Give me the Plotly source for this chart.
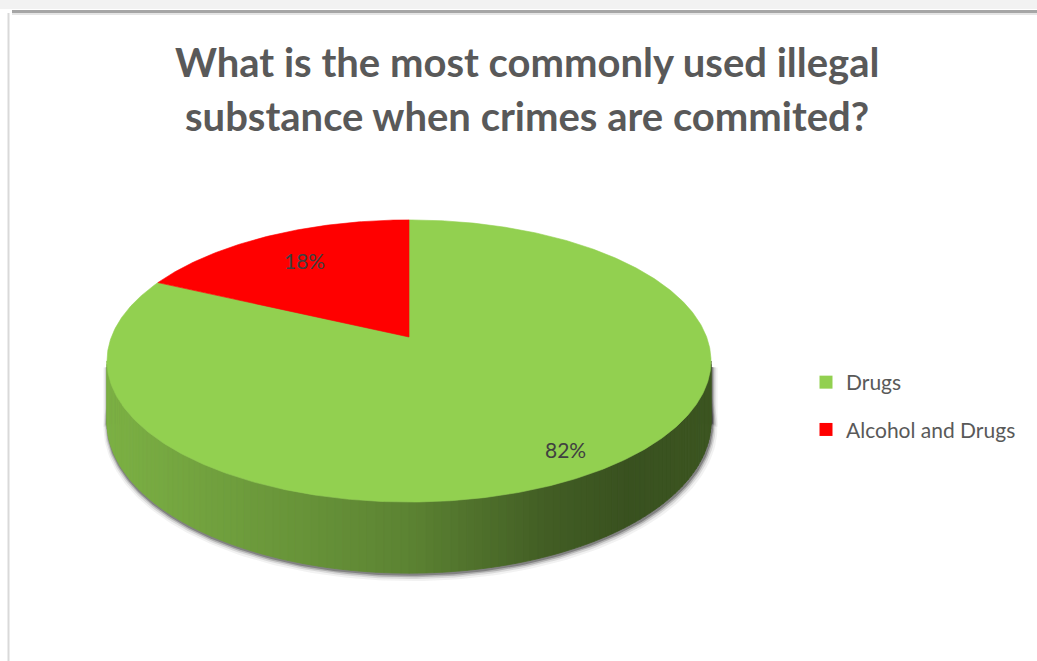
import numpy as np
import plotly.graph_objects as go

# ---- data ----
categories = ["Drugs", "Alcohol and Drugs"]
shares = [82, 18]
slice_colors = ["#92D050", "#FF0000"]
title_lines = ["What is the most commonly used illegal",
               "substance when crimes are commited?"]

# ---- 3-D pie geometry (pixel space, y downwards) ----
W, H = 1037, 661
CX, CY = 409.0, 337.0        # projected centre of the top face
RX, RY = 297.6, 137.0        # horizontal / vertical semi-axes before perspective
PERSP = 0.17                 # perspective strength (far side smaller)
DEPTH = 59.0                 # thickness of the disc
START_DEG = 90.0             # first slice starts at 12 o'clock, clockwise


def proj(r, theta_deg, depth=0.0):
    t = np.radians(theta_deg)
    x = r * np.cos(t)
    y = r * np.sin(t)
    w = 1.0 / (1.0 + PERSP * y)
    return CX + RX * x * w, CY - RY * y * w + DEPTH * depth * w


def shade(hex_color, f):
    h = hex_color.lstrip("#")
    rgb = [int(h[i:i + 2], 16) for i in (0, 2, 4)]
    return "rgb({},{},{})".format(*[max(0, min(255, int(round(c * f)))) for c in rgb])


fig = go.Figure()

# soft drop shadow hugging the disc outline
full = np.linspace(0, 360, 361)
for r, dx, dy, op in [(1.016, 1.5, 4.5, 0.06), (1.011, 1.2, 3.5, 0.12),
                      (1.007, 1.0, 2.6, 0.22), (1.004, 0.8, 1.8, 0.35)]:
    sx, sy = proj(r, full, depth=1.0)
    tx, ty = proj(r, full)
    # union of the top and bottom outlines, shifted slightly right/down
    ux = np.r_[tx, sx[::-1]]
    uy = np.r_[ty, sy[::-1]]
    fig.add_trace(go.Scatter(x=sx + dx, y=sy + dy, mode="lines", fill="toself",
                             fillcolor=f"rgba(40,40,40,{op})",
                             line=dict(width=0), hoverinfo="skip", showlegend=False))
    # side silhouettes as well
    sil_deg = np.degrees(np.arcsin(PERSP))
    for a in (180.0 + sil_deg, -sil_deg):
        px0, py0 = proj(r, a)
        px1, py1 = proj(r, a, 1.0)
        side = 1 if a < 90 else -1
        fig.add_trace(go.Scatter(x=[px0 - side * 20, px0 + dx, px1 + dx, px1 - side * 20],
                                 y=[py0 + 6, py0 + 6, py1 + dy, py1 + dy],
                                 mode="lines", fill="toself",
                                 fillcolor=f"rgba(40,40,40,{op})",
                                 line=dict(width=0), hoverinfo="skip", showlegend=False))

# slice angle spans
total = float(sum(shares))
spans = []
cum = 0.0
for s in shares:
    a0 = START_DEG - 360.0 * cum / total
    a1 = START_DEG - 360.0 * (cum + s) / total
    spans.append((a0, a1))
    cum += s

# visible side wall (front half between the silhouette points)
sil = np.degrees(np.arcsin(PERSP))
wall = np.linspace(-180.0 + sil, -sil, 121)
x_lo, _ = proj(1.0, 180.0 + sil)
x_hi, _ = proj(1.0, -sil)
ramp_u = [0.0, 0.25, 0.5, 0.73, 0.86, 1.0]
ramp_f = [0.85, 0.74, 0.63, 0.45, 0.39, 0.41]


def owner(theta):
    # which slice covers this angle (angles measured clockwise from START_DEG)
    a = (START_DEG - theta) % 360.0
    cum_deg = 0.0
    for i, s in enumerate(shares):
        cum_deg += 360.0 * s / total
        if a < cum_deg:
            return i
    return len(shares) - 1


for t0, t1 in zip(wall[:-1], wall[1:]):
    tx0, ty0 = proj(1.0, t0)
    tx1, ty1 = proj(1.0, t1)
    bx0, by0 = proj(1.0, t0, 1.0)
    bx1, by1 = proj(1.0, t1, 1.0)
    u = ((tx0 + tx1) / 2 - x_lo) / (x_hi - x_lo)
    col = shade(slice_colors[owner((t0 + t1) / 2)], float(np.interp(u, ramp_u, ramp_f)))
    fig.add_trace(go.Scatter(x=[tx0, tx1, bx1, bx0, tx0], y=[ty0, ty1, by1, by0, ty0],
                             mode="lines", fill="toself", fillcolor=col,
                             line=dict(width=0.8, color=col),
                             hoverinfo="skip", showlegend=False))

# top face slices
for (a0, a1), col in zip(spans, slice_colors):
    n = max(2, int(abs(a1 - a0)) * 2)
    ang = np.linspace(a0, a1, n)
    ex, ey = proj(1.0, ang)
    cx0, cy0 = proj(0.0, 0.0)
    fig.add_trace(go.Scatter(x=np.r_[cx0, ex, cx0], y=np.r_[cy0, ey, cy0],
                             mode="lines", fill="toself", fillcolor=col,
                             line=dict(width=0.6, color=col),
                             hoverinfo="skip", showlegend=False))

# percentage labels inside the slices
label_r = [0.86, 0.72]
for (a0, a1), s, r in zip(spans, shares, label_r):
    lx, ly = proj(r, (a0 + a1) / 2)
    fig.add_annotation(x=float(lx), y=float(ly) - 1, text=f"{round(100 * s / total)}%",
                       showarrow=False, font=dict(family="Lato", size=21, color="#404040"))

# legend entries
for name, col in zip(categories, slice_colors):
    fig.add_trace(go.Scatter(x=[None], y=[None], mode="markers", name=name,
                             legendgroup=name,
                             marker=dict(symbol="square", size=13, color=col)))

# title
for i, line in enumerate(title_lines):
    fig.add_annotation(x=527, y=62 + 54 * i, text=f"<b>{line}</b>", showarrow=False,
                       xanchor="center", yanchor="middle",
                       font=dict(family="Lato", size=40, color="#595959"))

# window-style frame around the chart
frame = [
    dict(type="rect", x0=0, x1=W, y0=0, y1=9, fillcolor="#f2f2f2", line=dict(width=0), layer="below"),
    dict(type="line", x0=12, x1=W, y0=11.5, y1=11.5, line=dict(color="#a6a6a6", width=3)),
    dict(type="line", x0=12, x1=W, y0=14, y1=14, line=dict(color="#dcdcdc", width=1.5)),
    dict(type="line", x0=8.5, x1=8.5, y0=13, y1=H, line=dict(color="#d9d9d9", width=2)),
]

fig.update_layout(
    width=W, height=H,
    margin=dict(l=0, r=0, t=0, b=0),
    paper_bgcolor="white", plot_bgcolor="white",
    xaxis=dict(range=[0, W], visible=False, fixedrange=True),
    yaxis=dict(range=[H, 0], visible=False, fixedrange=True),
    shapes=frame,
    showlegend=True,
    legend=dict(x=806 / W, y=1 - 362 / H, xanchor="left", yanchor="top",
                font=dict(family="Lato", size=21, color="#595959"),
                tracegroupgap=17, itemwidth=30, bgcolor="rgba(0,0,0,0)"),
)

fig.write_html("out.html")
